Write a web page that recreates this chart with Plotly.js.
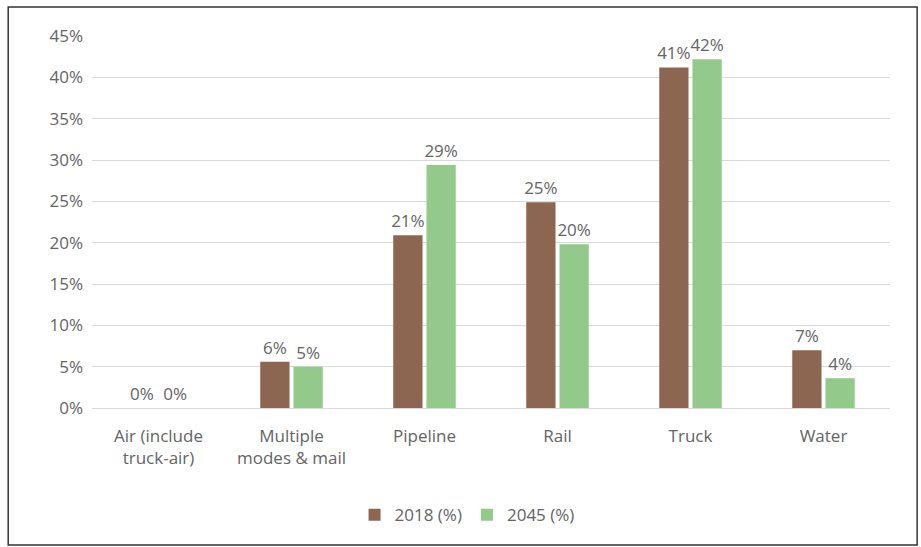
<!DOCTYPE html>
<html>
<head>
<meta charset="utf-8">
<script src="https://cdn.plot.ly/plotly-3.0.1.min.js"></script>
<style>html,body{margin:0;padding:0;background:#fff;}#chart{width:921px;height:547px;}</style>
</head>
<body>
<div id="chart"></div>
<script>
const categories = ["Air (include<br>truck-air)", "Multiple<br>modes & mail", "Pipeline", "Rail", "Truck", "Water"];
const values2018 = [0.0, 5.6, 20.9, 24.9, 41.2, 7.0];
const values2045 = [0.0, 5.0, 29.4, 19.8, 42.2, 3.6];
const labels2018 = ["0%", "6%", "21%", "25%", "41%", "7%"];
const labels2045 = ["0%", "5%", "29%", "20%", "42%", "4%"];
const yTicks = [0, 5, 10, 15, 20, 25, 30, 35, 40, 45];
const yTickLabels = yTicks.map(v => v + "%");

const txtColor = "#646464";
const font = {family: "Open Sans, DejaVu Sans, sans-serif", color: txtColor, size: 17};

const traces = [
  {type: "bar", name: "2018 (%)", x: categories, y: values2018, text: labels2018,
   textposition: "outside", constraintext: "none", cliponaxis: false, textfont: {size: 17, color: txtColor},
   marker: {color: "#8c6650"}, hoverinfo: "none"},
  {type: "bar", name: "2045 (%)", x: categories, y: values2045, text: labels2045,
   textposition: "outside", constraintext: "none", cliponaxis: false, textfont: {size: 17, color: txtColor},
   marker: {color: "#93c98a"}, hoverinfo: "none"}
];

const layout = {
  width: 921, height: 547,
  margin: {l: 92, r: 31, t: 36, b: 139, autoexpand: false},
  paper_bgcolor: "#ffffff", plot_bgcolor: "#ffffff",
  font: font,
  barmode: "group", bargap: 0.5, bargroupgap: 0.12,
  showlegend: true,
  legend: {orientation: "h", x: 0.47, xanchor: "center", y: -0.24, yanchor: "top",
           bgcolor: "rgba(0,0,0,0)", font: {size: 17, color: txtColor}, itemwidth: 30},
  xaxis: {showgrid: false, zeroline: false, showline: false, ticks: "", automargin: false,
          ticklabelstandoff: 16, tickfont: {size: 17, color: txtColor}},
  yaxis: {range: [0, 45], tickvals: yTicks, ticktext: yTickLabels, showgrid: true, automargin: false,
          gridcolor: "#d9d9d9", gridwidth: 1, zeroline: true, zerolinecolor: "#d9d9d9",
          showline: false, ticks: "", ticklen: 0, ticklabelstandoff: 8, tickfont: {size: 17, color: txtColor}},
  shapes: [{type: "rect", xref: "paper", yref: "paper", x0: -0.105, x1: 1.034, y0: -0.368, y1: 1.078,
            line: {color: "#333333", width: 1.5}, fillcolor: "rgba(0,0,0,0)"}]
};

Plotly.newPlot("chart", traces, layout, {displayModeBar: false, staticPlot: true});
</script>
</body>
</html>
